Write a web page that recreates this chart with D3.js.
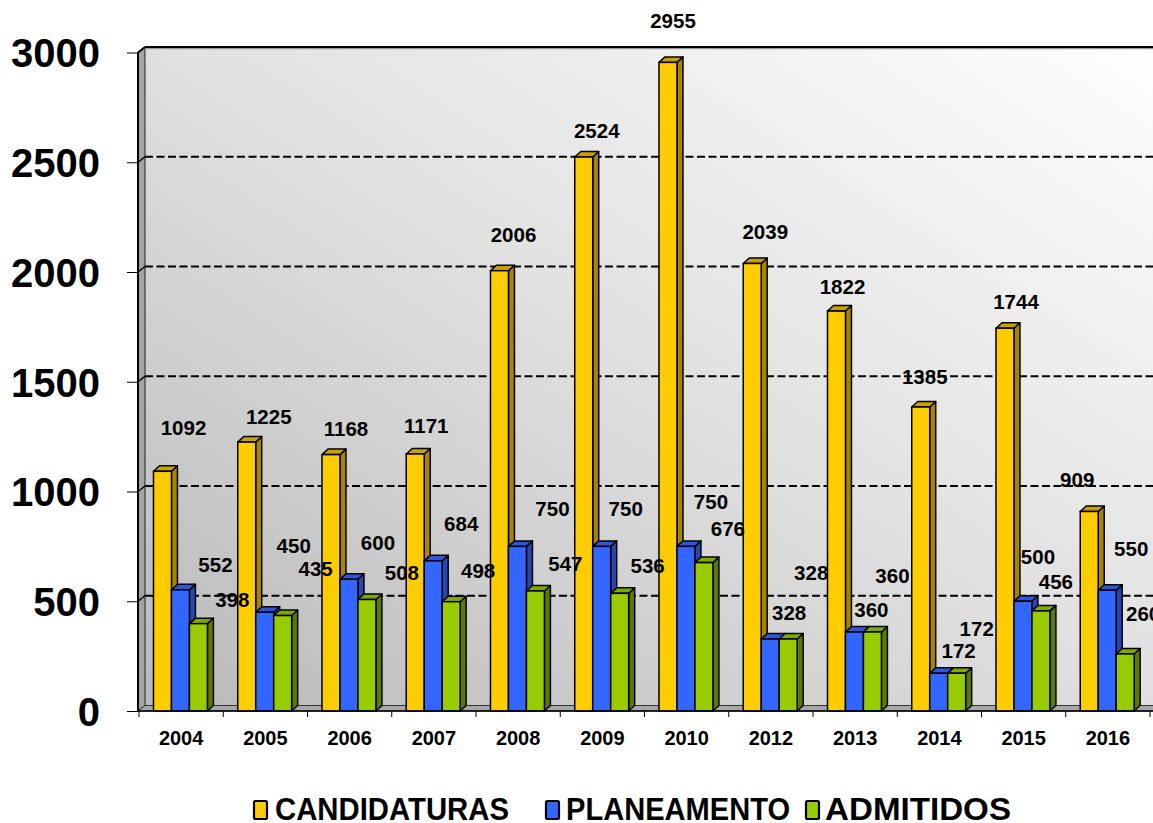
<!DOCTYPE html>
<html>
<head>
<meta charset="utf-8">
<script src="https://cdn.jsdelivr.net/npm/d3@7"></script>
<style>
  html, body { margin: 0; padding: 0; background: #ffffff; }
  svg { display: block; }
  text { font-family: "Liberation Sans", Arial, Helvetica, sans-serif; font-weight: bold; fill: #000; }
</style>
</head>
<body>
<svg id="chart" width="1153" height="823"></svg>
<script>
// ---- data ----
const years = ["2004", "2005", "2006", "2007", "2008", "2009", "2010", "2012", "2013", "2014", "2015", "2016"];
const candidaturas = [1092, 1225, 1168, 1171, 2006, 2524, 2955, 2039, 1822, 1385, 1744, 909];
const planeamento  = [552, 450, 600, 684, 750, 750, 750, 328, 360, 172, 500, 550];
const admitidos    = [398, 435, 508, 498, 547, 536, 676, 328, 360, 172, 456, 260];
const seriesNames  = ["CANDIDATURAS", "PLANEAMENTO", "ADMITIDOS"];
const yTicks       = [0, 500, 1000, 1500, 2000, 2500, 3000];

// data label placement, [dx, dy] from the top-centre of each bar's front face
const candLabelShift = [[21,-44],[22,-25],[15,-26],[11,-28],[14,-36],[13,-26],[5,-42],[13,-32],[6,-24],[4,-30],[11,-27],[-12,-32]];
const planLabelShift = [[35,-25],[29,-67],[29,-37],[28,-37],[35,-38],[24,-38],[25,-45],[41,-66],[38,-56],[38,-45],[15,-45],[24,-42]];
const admLabelShift  = [[34,-24],[33,-47],[35,-27],[27,-31],[30,-27],[28,-28],[24,-34],[1,-26],[-1,-22],[2,-23],[15,-29],[18,-40]];

// ---- styles ----
const faceColors = {
  CANDIDATURAS: { front: "#FFCC00", side: "#A68500", top: "#C9A200" },
  PLANEAMENTO:  { front: "#3366FF", side: "#2447B3", top: "#2E56DD" },
  ADMITIDOS:    { front: "#99CC00", side: "#5C7A00", top: "#7FA800" }
};
const seriesValues = { CANDIDATURAS: candidaturas, PLANEAMENTO: planeamento, ADMITIDOS: admitidos };
const seriesShift  = { CANDIDATURAS: candLabelShift, PLANEAMENTO: planLabelShift, ADMITIDOS: admLabelShift };

const svg = d3.select("#chart");
const W = 1153;

// plot frame (front plane) and 3-D depth offsets
const frontLeft = 138, floorY = 711, topY = 52.5;
const wallDx = 7, wallDy = -5.5;
const barDx = 6, barDy = -5.5;

const y = d3.scaleLinear().domain([0, 3000]).range([floorY, topY]);
const x = d3.scaleBand().domain(years).range([139, 1150]).paddingInner(0).paddingOuter(0);
const xs = d3.scaleBand().domain(seriesNames)
  .range([x.bandwidth() * 0.172, x.bandwidth() * 0.812]);

// gradient for the back wall
const defs = svg.append("defs");
const grad = defs.append("linearGradient").attr("id", "wallGrad")
  .attr("x1", 0).attr("y1", 1).attr("x2", 1).attr("y2", 0);
grad.append("stop").attr("offset", "0%").attr("stop-color", "#b9b9b9");
grad.append("stop").attr("offset", "50%").attr("stop-color", "#e0e0e0");
grad.append("stop").attr("offset", "100%").attr("stop-color", "#ffffff");

const backLeft = frontLeft + wallDx;
const backTop = topY + wallDy;
const backBottom = floorY + wallDy;

// back wall
svg.append("rect")
  .attr("x", backLeft).attr("y", backTop)
  .attr("width", W + 20 - backLeft).attr("height", backBottom - backTop)
  .attr("fill", "url(#wallGrad)");

// side wall
svg.append("polygon")
  .attr("points", [[frontLeft, topY], [backLeft, backTop], [backLeft, backBottom], [frontLeft, floorY]].join(" "))
  .attr("fill", "#a3a3a3").attr("stroke", "#222").attr("stroke-width", 1);

// floor
svg.append("polygon")
  .attr("points", [[frontLeft, floorY], [backLeft, backBottom], [W + 20, backBottom], [W + 20, floorY]].join(" "))
  .attr("fill", "#a8a8a8").attr("stroke", "#333").attr("stroke-width", 1);

// dashed gridlines on both walls
const gridVals = yTicks.filter(v => v > 0 && v < 3000);
const grid = svg.append("g").attr("class", "grid");
gridVals.forEach(v => {
  grid.append("line")
    .attr("x1", backLeft).attr("x2", W + 20)
    .attr("y1", y(v) + wallDy).attr("y2", y(v) + wallDy)
    .attr("stroke", "#000").attr("stroke-width", 2.2).attr("stroke-dasharray", "8,3.5");
  grid.append("line")
    .attr("x1", frontLeft).attr("x2", backLeft)
    .attr("y1", y(v)).attr("y2", y(v) + wallDy)
    .attr("stroke", "#000").attr("stroke-width", 1.5);
});

// top edge of the wall
svg.append("line")
  .attr("x1", backLeft).attr("x2", W + 20)
  .attr("y1", backTop + 1.5).attr("y2", backTop + 1.5)
  .attr("stroke", "#9a9a9a").attr("stroke-width", 1.5);
svg.append("line")
  .attr("x1", backLeft).attr("x2", W + 20)
  .attr("y1", backTop).attr("y2", backTop)
  .attr("stroke", "#000").attr("stroke-width", 2);
svg.append("line")
  .attr("x1", frontLeft).attr("x2", backLeft)
  .attr("y1", topY).attr("y2", backTop)
  .attr("stroke", "#000").attr("stroke-width", 2);

// value axis line and ticks
svg.append("line")
  .attr("x1", frontLeft).attr("x2", frontLeft)
  .attr("y1", topY).attr("y2", floorY)
  .attr("stroke", "#000").attr("stroke-width", 2);

const yAxis = d3.axisLeft(y).tickValues(yTicks).tickSize(11).tickPadding(27).tickFormat(d3.format("d"));
const yAxisG = svg.append("g").attr("transform", `translate(${frontLeft},0)`).call(yAxis);
yAxisG.select(".domain").remove();
yAxisG.selectAll(".tick line").attr("stroke", "#000").attr("stroke-width", 1);
yAxisG.selectAll(".tick text")
  .attr("font-size", 40).attr("font-family", "'Liberation Sans', Arial, sans-serif")
  .attr("font-weight", "bold").attr("fill", "#000").attr("dy", "0.36em");

// category axis
const xAxis = d3.axisBottom(x).tickSize(0).tickPadding(20);
const xAxisG = svg.append("g").attr("transform", `translate(0,${floorY})`).call(xAxis);
xAxisG.select(".domain").remove();
xAxisG.selectAll(".tick text")
  .attr("font-size", 20).attr("font-family", "'Liberation Sans', Arial, sans-serif")
  .attr("font-weight", "bold").attr("fill", "#000");
// category separators
const sepG = svg.append("g");
x.domain().map(d => x(d)).concat([x.range()[1]]).forEach(sx => {
  sepG.append("line").attr("x1", sx).attr("x2", sx)
    .attr("y1", floorY).attr("y2", floorY + 6)
    .attr("stroke", "#000").attr("stroke-width", 1);
});

// bars
const barsG = svg.append("g").attr("class", "bars");
years.forEach((yr, i) => {
  seriesNames.forEach(s => {
    const v = seriesValues[s][i];
    const c = faceColors[s];
    const x0 = x(yr) + xs(s), w = xs.bandwidth();
    const yt = y(v), yb = y(0);
    const g = barsG.append("g");
    g.append("polygon")
      .attr("points", [[x0 + w, yt], [x0 + w + barDx, yt + barDy], [x0 + w + barDx, yb + barDy], [x0 + w, yb]].join(" "))
      .attr("fill", c.side).attr("stroke", "#000").attr("stroke-width", 1.5).attr("stroke-linejoin", "round");
    g.append("polygon")
      .attr("points", [[x0, yt], [x0 + barDx, yt + barDy], [x0 + w + barDx, yt + barDy], [x0 + w, yt]].join(" "))
      .attr("fill", c.top).attr("stroke", "#000").attr("stroke-width", 1.5).attr("stroke-linejoin", "round");
    g.append("rect")
      .attr("x", x0).attr("y", yt).attr("width", w).attr("height", yb - yt)
      .attr("fill", c.front).attr("stroke", "#000").attr("stroke-width", 1.5);
  });
});

// axis line in front of the floor
svg.append("line")
  .attr("x1", frontLeft).attr("x2", W + 20)
  .attr("y1", floorY).attr("y2", floorY)
  .attr("stroke", "#000").attr("stroke-width", 1.5);

// data labels
const labelsG = svg.append("g").attr("class", "labels");
seriesNames.forEach(s => {
  years.forEach((yr, i) => {
    const v = seriesValues[s][i];
    const sh = seriesShift[s][i];
    const cx = x(yr) + xs(s) + xs.bandwidth() / 2;
    labelsG.append("text")
      .attr("x", cx + sh[0]).attr("y", y(v) + sh[1])
      .attr("text-anchor", "middle").attr("dy", "0.36em")
      .attr("font-size", 20.5)
      .text(v);
  });
});

// legend (condensed bold caps)
const legendItems = [
  { name: "CANDIDATURAS", box: 254, tx: 275, tw: 234 },
  { name: "PLANEAMENTO",  box: 546, tx: 566, tw: 224 },
  { name: "ADMITIDOS",    box: 806, tx: 825, tw: 186 }
];
const legendG = svg.append("g").attr("class", "legend");
legendItems.forEach(it => {
  legendG.append("rect")
    .attr("x", it.box).attr("y", 801).attr("width", 13).attr("height", 18).attr("rx", 1.5)
    .attr("fill", faceColors[it.name].front).attr("stroke", "#000").attr("stroke-width", 2.2);
  legendG.append("text")
    .attr("x", it.tx).attr("y", 820)
    .attr("font-size", 31)
    .attr("textLength", it.tw).attr("lengthAdjust", "spacingAndGlyphs")
    .text(it.name);
});
</script>
</body>
</html>
